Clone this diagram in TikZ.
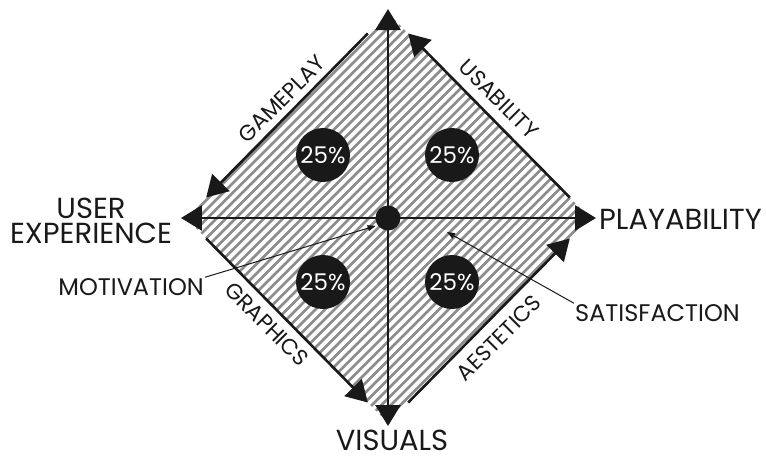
\documentclass[tikz,border=0pt]{standalone}
\usepackage{fontspec}
\setmainfont{Poppins}
\usetikzlibrary{positioning}
\usetikzlibrary{calc}
\usetikzlibrary{arrows.meta}
\definecolor{dgray}{gray}{0.1}
\definecolor{hgray}{gray}{0.55}
\tikzset{
  axis/.style = {line width=2.6pt, dgray, {Triangle[length=21pt,width=25pt]}-{Triangle[length=21pt,width=25pt]}},
  side/.style = {line width=2.6pt, dgray, -{Triangle[length=21pt,width=24pt]}},
  pointer/.style = {line width=1pt, dgray, -{Triangle[length=8pt,width=6pt]}},
  hatch/.style = {line width=2.7pt, hgray},
  pct/.style = {fill=dgray, circle, inner sep=0, minimum size=54pt, text=white, font=\fontsize{23}{23}\selectfont},
  big/.style = {text=dgray, font=\fontsize{29}{25}\selectfont, inner sep=1pt},
  small/.style = {text=dgray, font=\fontsize{24}{24}\selectfont, inner sep=1pt},
  tag/.style = {text=dgray, font=\fontsize{22}{22}\selectfont, inner sep=0pt},
}

\begin{document}
\begin{tikzpicture}[x=1pt, y=1pt]
    \useasboundingbox (-388,-241) rectangle (378,218);

    \coordinate (L) at (-202,0);
    \coordinate (T) at (0,205);
    \coordinate (R) at (202,0);
    \coordinate (B) at (0,-205);

    % hatched square
    \begin{scope}
      \clip (L) -- (T) -- (R) -- (B) -- cycle;
      \foreach \c in {-427.5,-418,...,428}
        \draw[hatch] (\c-215,-215) -- (\c+215,215);
    \end{scope}

    \coordinate (ax left) at (-207,0);
    \coordinate (ax right) at (208,0);
    \coordinate (ax top) at (0,209);
    \coordinate (ax bot) at (0,-208);
    \draw[axis] (ax left) -- (ax right);
    \draw[axis] (ax bot) -- (ax top);

    \draw[side] ($(T)!0.1!(L)$) -- ($(T)!0.9!(L)$);
    \draw[side] ($(R)!0.1!(T)$) -- ($(R)!0.9!(T)$);
    \draw[side] ($(L)!0.1!(B)$) -- ($(L)!0.9!(B)$);
    \draw[side] ($(B)!0.1!(R)$) -- ($(B)!0.9!(R)$);

    \node[fill=dgray, circle, inner sep=0, minimum size=25pt] (ctr) at (0,0) {};

    \node[pct] (q1) at (-65,63) {25\%};
    \node[pct] (q2) at (64,63) {25\%};
    \node[pct] (q3) at (-65,-64) {25\%};
    \node[pct] (q4) at (64,-64) {25\%};

    \node[big, align=center] (ux) at (-297,-3) {USER\\EXPERIENCE};
    \node[big, anchor=west] (play) at (210,-1) {PLAYABILITY};
    \node[big] (vis) at (4,-222) {VISUALS};

    \node[tag, rotate=45] (game) at (-106,119) {GAMEPLAY};
    \node[tag, rotate=-45] (usab) at (111,119) {USABILITY};
    \node[tag, rotate=-45] (graph) at (-121,-106) {GRAPHICS};
    \node[tag, rotate=45] (aest) at (111,-120) {AESTETICS};

    \node[small, anchor=east] (motiv) at (-183,-69) {MOTIVATION};
    \node[small, anchor=west] (satis) at (186,-95) {SATISFACTION};

    \coordinate (sat tip) at (59,-14);
    \draw[pointer, shorten >=2pt] (motiv.north east) -- (ctr.215);
    \draw[pointer] (satis.north west) -- (sat tip);
  \end{tikzpicture}
\end{document}
